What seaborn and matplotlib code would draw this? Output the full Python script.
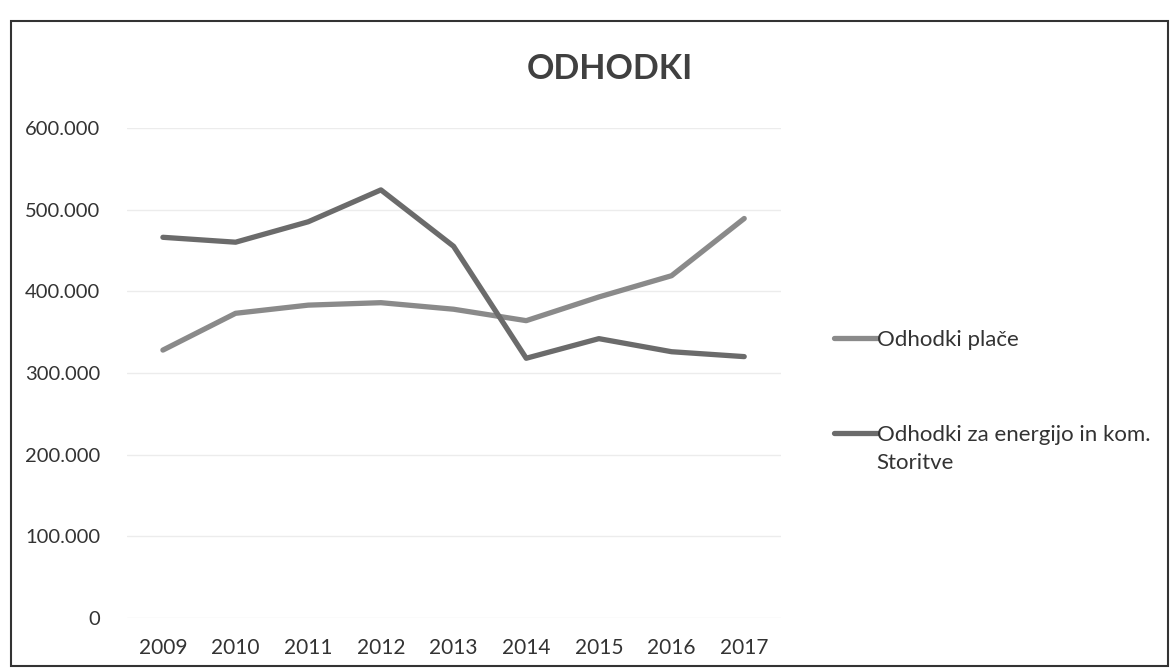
import matplotlib
matplotlib.use("Agg")
import matplotlib.pyplot as plt
import seaborn as sns
import pandas as pd
from matplotlib.patches import Rectangle
from matplotlib.ticker import FuncFormatter

years = ["2009", "2010", "2011", "2012", "2013", "2014", "2015", "2016", "2017"]
place = [328000, 373000, 383000, 386000, 378000, 364000, 393000, 419000, 489000]
energija = [466000, 460000, 485000, 524000, 455000, 318000, 342000, 326000, 320000]
series_names = ["Odhodki plače", "Odhodki za energijo in kom."]
series_name_cont = "Storitve"
title = "ODHODKI"

sns.set_theme(style="white")
plt.rcParams["font.family"] = ["Lato", "DejaVu Sans"]

rows = []
for i, y in enumerate(years):
    rows.append({"pos": i, "val": place[i], "serija": series_names[0]})
    rows.append({"pos": i, "val": energija[i], "serija": series_names[1]})
df = pd.DataFrame(rows)

fig = plt.figure(figsize=(11.72, 6.69), dpi=100)
ax = fig.add_axes([0.108, 0.076, 0.558, 0.733])

sns.lineplot(data=df, x="pos", y="val", hue="serija", hue_order=series_names,
             palette=["#8a8a8a", "#6b6b6b"], linewidth=3.8, ax=ax, legend=True)

ax.set_xlim(-0.5, len(years) - 0.5)
ax.set_ylim(0, 600000)
ax.set_yticks(range(0, 600001, 100000))
ax.yaxis.set_major_formatter(FuncFormatter(lambda v, p: "0" if v == 0 else f"{int(v):,}".replace(",", ".")))
ax.set_xticks(range(len(years)))
ax.set_xticklabels(years)
ax.tick_params(axis="x", labelsize=15, colors="#333333", pad=14, length=0)
ax.tick_params(axis="y", labelsize=14.5, colors="#333333", pad=19, length=0)
ax.grid(axis="y", color="#ececec", linewidth=1)
for s in ax.spines.values():
    s.set_visible(False)
ax.set_xlabel("")
ax.set_ylabel("")

handles, labels = ax.get_legend_handles_labels()
ax.get_legend().remove()
leg = fig.legend(handles, labels, loc="upper left", bbox_to_anchor=(0.712, 0.507),
                 bbox_transform=fig.transFigure, frameon=False, borderpad=0,
                 borderaxespad=0, fontsize=16, handlelength=1.9, handletextpad=0.0,
                 labelspacing=3.37)
for t in leg.get_texts():
    t.set_color("#333333")

fig.canvas.draw()
bb = leg.get_texts()[1].get_window_extent()
fig.text(bb.x0 / fig.bbox.width, (bb.y0 - 8) / fig.bbox.height, series_name_cont,
         ha="left", va="top", fontsize=16, color="#333333")

fig.text(0.52, 0.897, title, ha="center", va="center", fontsize=24.5,
         fontweight="bold", color="#404040")

fig.patches.append(Rectangle((0.009, 0.004), 0.988, 0.965, transform=fig.transFigure,
                             fill=False, edgecolor="#333333", linewidth=1.5))

fig.savefig("out.png", dpi=100)
